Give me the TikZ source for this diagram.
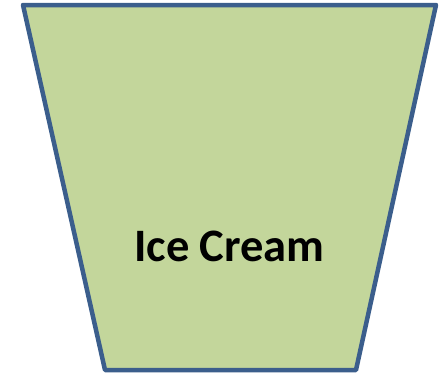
\documentclass[tikz,border=0pt]{standalone}
\usepackage{fontspec}
\setmainfont{Carlito}
\definecolor{cupfill}{HTML}{C3D69B}
\definecolor{cupline}{HTML}{3B5E8C}
\tikzset{cup/.style={fill=cupfill,draw=cupline,line width=4.5pt,line join=round}}
\begin{document}
\begin{tikzpicture}[x=1pt,y=-1pt]
\useasboundingbox (0,0) rectangle (442,375);
\draw[cup] (23,5) -- (436,5) -- (356,370) -- (105,370) -- cycle;
\node[font=\fontsize{46.5}{54}\selectfont\bfseries,inner sep=0pt] (label) at (229.5,246) {Ice Cream};
\end{tikzpicture}
\end{document}
